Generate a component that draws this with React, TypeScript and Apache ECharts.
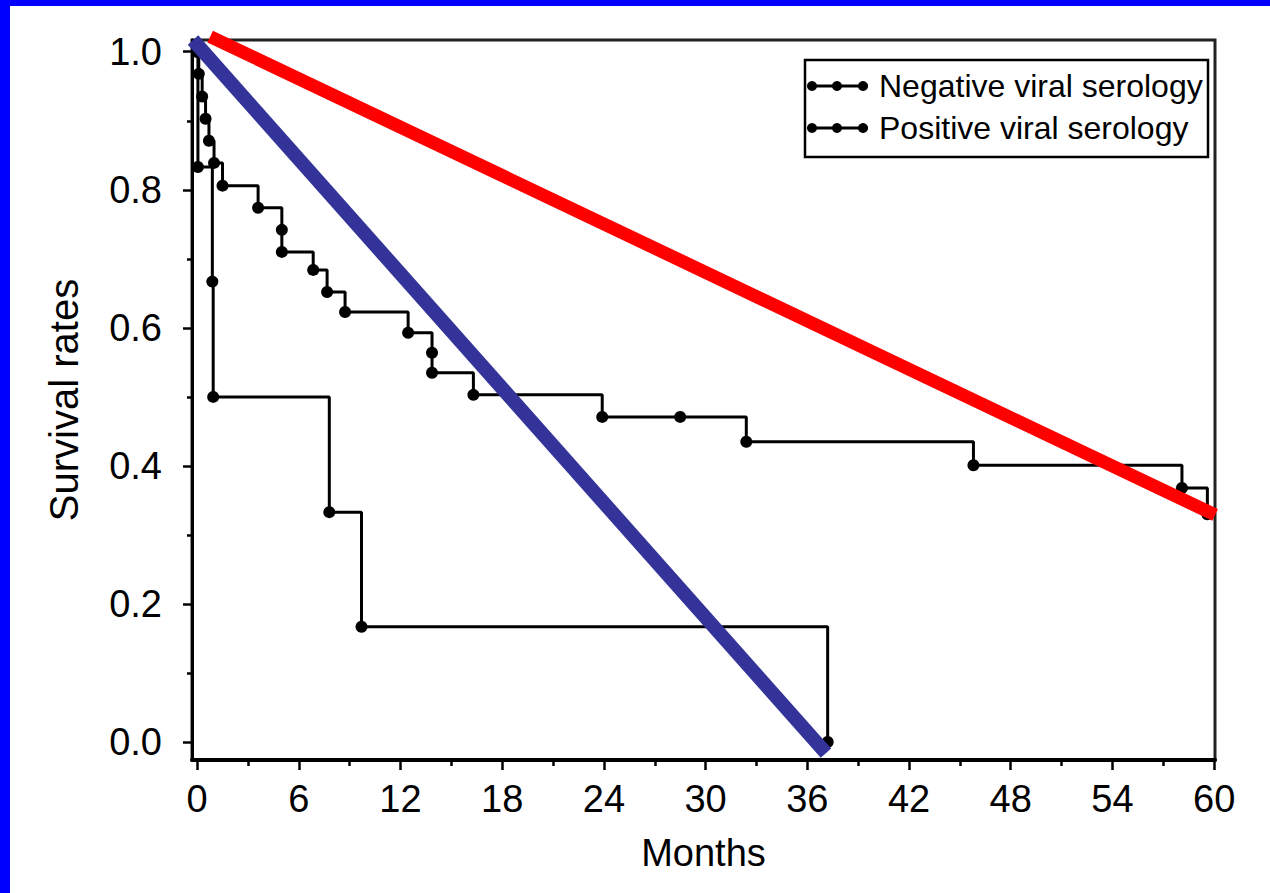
import { useEffect, useRef } from "react";
import * as echarts from "echarts";

// Kaplan-Meier: negative viral serology (upper curve)
const negativeMonths = [0, 0.1, 0.3, 0.5, 0.7, 1.0, 1.5, 3.6, 5.0, 5.0, 6.85, 7.67, 8.73, 12.45, 13.86, 13.86, 16.3, 23.9, 28.5, 32.4, 45.8, 58.1, 59.6];
const negativeRates = [1.0, 0.968, 0.935, 0.903, 0.871, 0.839, 0.806, 0.774, 0.742, 0.71, 0.684, 0.652, 0.623, 0.593, 0.564, 0.535, 0.503, 0.471, 0.471, 0.435, 0.401, 0.368, 0.33];

// Kaplan-Meier: positive viral serology (lower curve)
const positiveMonths = [0, 0.05, 0.9, 0.95, 7.8, 9.7, 37.2];
const positiveRates = [1.0, 0.833, 0.667, 0.5, 0.333, 0.167, 0.0];

// Overlaid straight lines
const redLineMonths = [0.77, 60.06];
const redLineRates = [1.022, 0.329];
const blueLineMonths = [-0.24, 37.1];
const blueLineRates = [1.017, -0.016];

// Ticks
const xMajorTicks = [0, 6, 12, 18, 24, 30, 36, 42, 48, 54, 60];
const xMinorTicks = [3, 9, 15, 21, 27, 33, 39, 45, 51, 57];
const yMajorTicks = [0, 0.2, 0.4, 0.6, 0.8, 1.0];
const yMinorTicks = [0.1, 0.3, 0.5, 0.7, 0.9];

const legendNames = ["Negative viral serology", "Positive viral serology"];

const FONT = "'Liberation Sans', Arial, Helvetica, sans-serif";

const zip = (xs: number[], ys: number[]) => xs.map((x, i) => [x, ys[i]]);

export default function App() {
  const ref = useRef<HTMLDivElement>(null);

  useEffect(() => {
    if (!ref.current) return;
    const chart = echarts.init(ref.current, undefined, { renderer: "svg" });

    const legendGraphics: any[] = [
      {
        type: "rect",
        shape: { x: 805, y: 60, width: 403, height: 97 },
        style: { fill: "#fff", stroke: "#000", lineWidth: 2.5 },
        z: 10,
      },
    ];
    legendNames.forEach((name, i) => {
      const cy = 86 + i * 42;
      legendGraphics.push({
        type: "line",
        shape: { x1: 808, y1: cy, x2: 868, y2: cy },
        style: { stroke: "#000", lineWidth: 3 },
        z: 11,
      });
      [812, 837, 863].forEach((cx) =>
        legendGraphics.push({
          type: "circle",
          shape: { cx, cy, r: 5 },
          style: { fill: "#000" },
          z: 11,
        })
      );
      legendGraphics.push({
        type: "text",
        x: 879,
        y: cy,
        style: {
          text: name,
          fill: "#000",
          font: `32px ${FONT}`,
          verticalAlign: "middle",
          align: "left",
        },
        z: 11,
      });
    });

    const option: any = {
      animation: false,
      backgroundColor: "#fff",
      grid: {
        left: 192,
        right: 55,
        top: 40,
        bottom: 133,
        show: true,
        borderColor: "#222",
        borderWidth: 3,
        backgroundColor: "transparent",
      },
      xAxis: [
        {
          type: "value",
          min: -0.3,
          max: 60.05,
          name: "Months",
          nameLocation: "middle",
          nameGap: 74,
          nameTextStyle: { fontSize: 38, fontFamily: FONT, color: "#000" },
          axisLine: { show: true, onZero: false, lineStyle: { color: "#000", width: 4 } },
          axisTick: {
            show: true,
            inside: false,
            customValues: xMajorTicks,
            length: 10,
            lineStyle: { color: "#000", width: 2.5 },
          },
          axisLabel: {
            customValues: xMajorTicks,
            fontSize: 38,
            fontFamily: FONT,
            color: "#000",
            margin: 20,
            formatter: (v: number) => String(v),
          },
          splitLine: { show: false },
        },
        {
          type: "value",
          min: -0.3,
          max: 60.05,
          position: "bottom",
          axisLine: { show: false, onZero: false },
          axisTick: {
            show: true,
            inside: false,
            customValues: xMinorTicks,
            length: 6,
            lineStyle: { color: "#000", width: 2.5 },
          },
          axisLabel: { show: false },
          splitLine: { show: false },
        },
      ],
      yAxis: [
        {
          type: "value",
          min: -0.026,
          max: 1.017,
          name: "Survival rates",
          nameLocation: "middle",
          nameRotate: 90,
          nameGap: 108,
          nameTextStyle: { fontSize: 40, fontFamily: FONT, color: "#000" },
          axisLine: { show: true, onZero: false, lineStyle: { color: "#000", width: 3 } },
          axisTick: {
            show: true,
            inside: false,
            customValues: yMajorTicks,
            length: 9,
            lineStyle: { color: "#000", width: 2.5 },
          },
          axisLabel: {
            customValues: yMajorTicks,
            fontSize: 38,
            fontFamily: FONT,
            color: "#000",
            margin: 30,
            formatter: (v: number) => v.toFixed(1),
          },
          splitLine: { show: false },
        },
        {
          type: "value",
          min: -0.026,
          max: 1.017,
          position: "left",
          axisLine: { show: false, onZero: false },
          axisTick: {
            show: true,
            inside: false,
            customValues: yMinorTicks,
            length: 5,
            lineStyle: { color: "#000", width: 2.5 },
          },
          axisLabel: { show: false },
          splitLine: { show: false },
        },
      ],
      series: [
        {
          name: legendNames[0],
          type: "line",
          step: "end",
          data: zip(negativeMonths, negativeRates),
          symbol: "circle",
          symbolSize: 12,
          itemStyle: { color: "#000" },
          lineStyle: { color: "#000", width: 3 },
          z: 3,
        },
        {
          name: legendNames[1],
          type: "line",
          step: "end",
          data: zip(positiveMonths, positiveRates),
          symbol: "circle",
          symbolSize: 12,
          itemStyle: { color: "#000" },
          lineStyle: { color: "#000", width: 3 },
          z: 3,
        },
        {
          name: "red",
          type: "line",
          data: zip(redLineMonths, redLineRates),
          symbol: "none",
          clip: false,
          lineStyle: { color: "#FF0000", width: 13 },
          z: 5,
        },
        {
          name: "blue",
          type: "line",
          data: zip(blueLineMonths, blueLineRates),
          symbol: "none",
          clip: false,
          lineStyle: { color: "#333399", width: 14 },
          z: 5,
        },
      ],
      graphic: [
        {
          type: "rect",
          shape: { x: 0, y: 0, width: 1270, height: 6 },
          style: { fill: "#0000FF" },
          z: 20,
        },
        {
          type: "rect",
          shape: { x: 0, y: 0, width: 10, height: 893 },
          style: { fill: "#0000FF" },
          z: 20,
        },
        ...legendGraphics,
      ],
    };

    chart.setOption(option);
    return () => chart.dispose();
  }, []);

  return (
    <div
      ref={ref}
      style={{ position: "fixed", left: 0, top: 0, width: 1270, height: 893 }}
    />
  );
}
